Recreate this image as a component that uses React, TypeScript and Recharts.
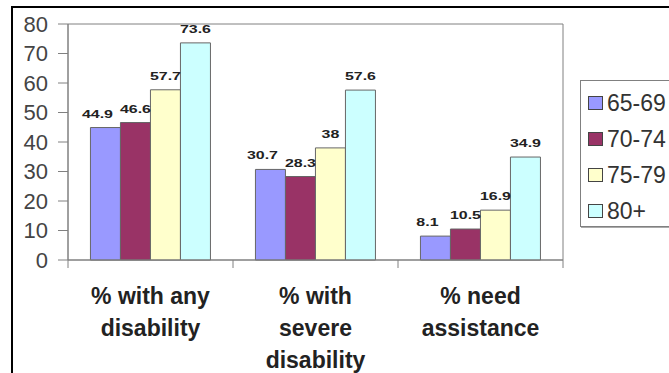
import React from 'react';
import {
  BarChart,
  Bar,
  XAxis,
  YAxis,
  Legend,
  LabelList,
  ReferenceArea,
} from 'recharts';

// categories use \n for the line breaks under the axis
const categories = ['% with any\ndisability', '% with\nsevere\ndisability', '% need\nassistance'];
const ageGroups = ['65-69', '70-74', '75-79', '80+'];
const age6569 = [44.9, 30.7, 8.1];
const age7074 = [46.6, 28.3, 10.5];
const age7579 = [57.7, 38, 16.9];
const age80 = [73.6, 57.6, 34.9];
const yTicks = [0, 10, 20, 30, 40, 50, 60, 70, 80];

const colors = ['#9999FF', '#993366', '#FFFFCC', '#CCFFFF'];
const font = '"Liberation Sans", Arial, sans-serif';

const seriesValues = [age6569, age7074, age7579, age80];
const data = categories.map((category, i) => {
  const row: Record<string, string | number> = { category };
  ageGroups.forEach((g, s) => {
    row[g] = seriesValues[s][i];
  });
  return row;
});

const CategoryTick = (props: any) => {
  const { x, y, payload, index, width } = props;
  const half = payload.offset || width / categories.length / 2;
  const lines = String(payload.value).split('\n');
  return (
    <g>
      <line x1={x - half} y1={y} x2={x - half} y2={y + 8} stroke="#808080" />
      {index === categories.length - 1 && (
        <line x1={x + half} y1={y} x2={x + half} y2={y + 8} stroke="#808080" />
      )}
      <text
        x={x}
        y={y + 44}
        textAnchor="middle"
        fontFamily={font}
        fontSize={23}
        fontWeight="bold"
        fill="#222"
      >
        {lines.map((l, i) => (
          <tspan key={i} x={x} dy={i === 0 ? 0 : 32}>
            {l}
          </tspan>
        ))}
      </text>
    </g>
  );
};

const makeLabel = (shift: number) => (props: any) => {
  const { x, y, width, value } = props;
  const cx = x + width / 2 + shift;
  return (
    <text
      transform={`translate(${cx},${y - 10}) scale(1.45,1)`}
      textAnchor="middle"
      fontFamily={font}
      fontSize={11}
      fontWeight="bold"
      fill="#222"
    >
      {value}
    </text>
  );
};

const renderLegend = () => (
  <div
    style={{
      boxSizing: 'border-box',
      width: 120,
      height: 147,
      border: '1px solid #808080',
      boxShadow: '1px 1px 0 #aaa',
      background: '#fff',
      paddingTop: 4,
      fontFamily: font,
    }}
  >
    {ageGroups.map((g, i) => (
      <div key={g} style={{ height: 36, display: 'flex', alignItems: 'center' }}>
        <span
          style={{
            display: 'inline-block',
            width: 13,
            height: 12,
            marginLeft: 7,
            background: colors[i],
            border: '1px solid #444',
          }}
        />
        <span style={{ marginLeft: 4, fontSize: 23, color: '#333', whiteSpace: 'nowrap' }}>{g}</span>
      </div>
    ))}
  </div>
);

export default function App() {
  return (
    <div style={{ position: 'fixed', left: 0, top: 0, width: 669, height: 373, overflow: 'hidden', background: '#fff' }}>
      <div
        style={{
          position: 'absolute',
          left: 11,
          top: 6,
          width: 720,
          height: 420,
          border: '2px solid #000',
        }}
      />
      <div style={{ position: 'absolute', left: 0, top: 0 }}>
        <BarChart
          width={669}
          height={373}
          data={data}
          margin={{ top: 24, right: 106, bottom: 0, left: 0 }}
          barCategoryGap="13.6%"
          barGap={0}
        >
          <ReferenceArea y1={0} y2={80} fill="none" stroke="#808080" strokeWidth={1} ifOverflow="visible" />
          <XAxis
            dataKey="category"
            height={113}
            axisLine={{ stroke: '#808080' }}
            tickLine={false}
            tickSize={0}
            tickMargin={0}
            interval={0}
            tick={<CategoryTick />}
          />
          <YAxis
            width={68}
            domain={[0, 80]}
            ticks={yTicks}
            interval={0}
            axisLine={{ stroke: '#808080' }}
            tickLine={{ stroke: '#808080' }}
            tickSize={10}
            tickMargin={10}
            tick={{ fontSize: 22, fill: '#444', fontFamily: font }}
          />
          <Legend
            layout="horizontal"
            verticalAlign="middle"
            align="center"
            content={renderLegend}
            wrapperStyle={{ left: 580, top: 80, width: 120, height: 147 }}
          />
          {ageGroups.map((g, i) => (
            <Bar key={g} dataKey={g} fill={colors[i]} stroke="#666" strokeWidth={1} isAnimationActive={false}>
              <LabelList dataKey={g} content={makeLabel(i === 0 ? -8 : 0)} />
            </Bar>
          ))}
        </BarChart>
      </div>
    </div>
  );
}
